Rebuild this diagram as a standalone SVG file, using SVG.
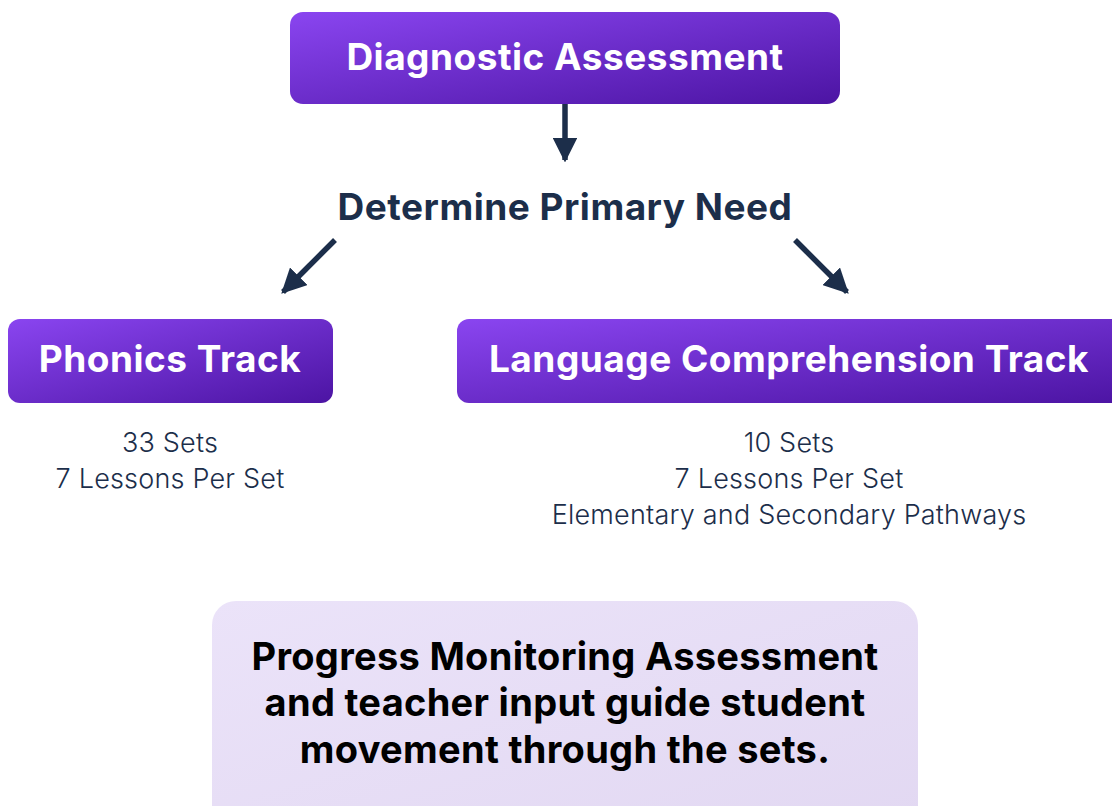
<svg xmlns="http://www.w3.org/2000/svg" width="1112" height="806" viewBox="0 0 1112 806">
<defs>
<linearGradient id="purple" x1="0" y1="0" x2="1" y2="1">
<stop offset="0" stop-color="#8a45f0"/>
<stop offset="1" stop-color="#4c14a3"/>
</linearGradient>
<linearGradient id="lav" x1="0" y1="0" x2="1" y2="1">
<stop offset="0" stop-color="#ebe3f9"/>
<stop offset="1" stop-color="#e2d8f2"/>
</linearGradient>
<marker id="ah" viewBox="0 0 10 10" refX="9" refY="5" markerWidth="4.5" markerHeight="4.5" markerUnits="strokeWidth" orient="auto">
<path d="M0,0 L10,5 L0,10 z" fill="#1c2e4a"/>
</marker>
<style>
.box{fill:url(#purple);}
.title{font-family:Inter,"Liberation Sans",sans-serif;font-weight:700;font-size:37px;letter-spacing:0.5px;fill:#ffffff;text-anchor:middle;}
.head{font-family:Inter,"Liberation Sans",sans-serif;font-weight:700;font-size:37px;letter-spacing:0.5px;fill:#1c2e4a;text-anchor:middle;}
.sub{font-family:Inter,"Liberation Sans",sans-serif;font-weight:300;font-size:27px;letter-spacing:0.2px;fill:#1c2e4a;text-anchor:middle;}
.note{font-family:Inter,"Liberation Sans",sans-serif;font-weight:700;font-size:38px;letter-spacing:0.3px;fill:#000000;text-anchor:middle;}
.conn{stroke:#1c2e4a;stroke-width:5.5;fill:none;marker-end:url(#ah);}
</style>
</defs>
<rect width="1112" height="806" fill="#ffffff"/>
<g id="connectors">
<line class="conn" x1="565" y1="104" x2="565" y2="160"/>
<line class="conn" x1="335" y1="240" x2="283" y2="292"/>
<line class="conn" x1="795" y1="240" x2="847" y2="292"/>
</g>
<g id="diagnostic">
<rect class="box" x="290" y="12" width="550" height="92" rx="13"/>
<text class="title" x="565" y="70">Diagnostic Assessment</text>
</g>
<g id="determine">
<text class="head" x="565" y="220">Determine Primary Need</text>
</g>
<g id="phonics">
<rect class="box" x="8" y="319" width="325" height="84" rx="12"/>
<text class="title" x="170" y="372">Phonics Track</text>
<text class="sub" x="170" y="452">33 Sets</text>
<text class="sub" x="170" y="488">7 Lessons Per Set</text>
</g>
<g id="language">
<rect class="box" x="457" y="319" width="670" height="84" rx="12"/>
<text class="title" x="789" y="372">Language Comprehension Track</text>
<text class="sub" x="789" y="452">10 Sets</text>
<text class="sub" x="789" y="488">7 Lessons Per Set</text>
<text class="sub" x="789" y="524">Elementary and Secondary Pathways</text>
</g>
<g id="progress">
<rect x="212" y="601" width="706" height="230" rx="24" fill="url(#lav)"/>
<text class="note" x="565" y="670">Progress Monitoring Assessment</text>
<text class="note" x="565" y="716">and teacher input guide student</text>
<text class="note" x="565" y="763">movement through the sets.</text>
</g>
</svg>
